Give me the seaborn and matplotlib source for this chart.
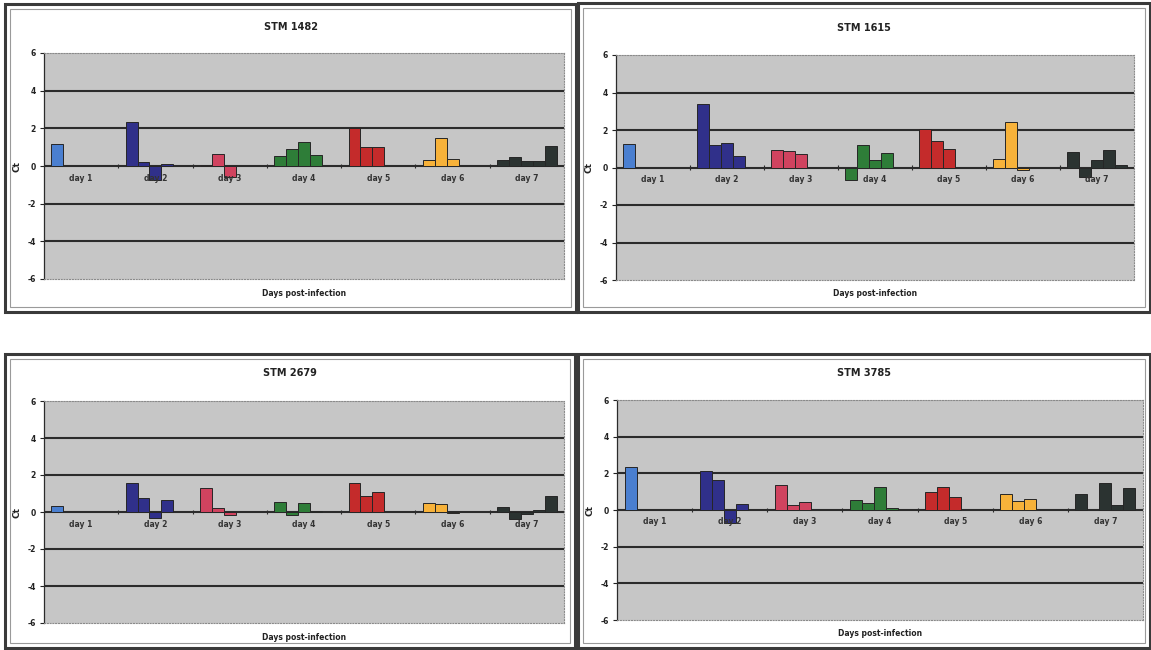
import numpy as np
import pandas as pd
import matplotlib
matplotlib.use('Agg')
import matplotlib.pyplot as plt
import seaborn as sns
from matplotlib.patches import Rectangle

# canvas size in pixels (dpi 100)
W, H = 1151, 650

days = ['day 1', 'day 2', 'day 3', 'day 4', 'day 5', 'day 6', 'day 7']
slots = ['s1', 's2', 's3', 's4', 's5']
titles = ['STM 1482', 'STM 1615', 'STM 2679', 'STM 3785']
nan = np.nan

# Ct values, one row per day, five sample slots per day
stm1482 = [
    [1.15, nan, nan, nan, nan],
    [2.35, 0.2, -0.75, 0.08, nan],
    [0.03, 0.62, -0.6, nan, nan],
    [0.55, 0.9, 1.3, 0.6, nan],
    [2.0, 1.0, 1.0, nan, nan],
    [0.3, 1.5, 0.35, nan, nan],
    [0.3, 0.5, 0.28, 0.25, 1.05],
]
stm1615 = [
    [1.25, nan, nan, nan, nan],
    [3.4, 1.22, 1.3, 0.6, nan],
    [0.93, 0.9, 0.7, nan, nan],
    [-0.65, 1.22, 0.38, 0.78, nan],
    [2.03, 1.42, 1.0, nan, nan],
    [0.43, 2.43, -0.15, nan, nan],
    [0.83, -0.5, 0.4, 0.92, 0.12],
]
stm2679 = [
    [0.35, nan, nan, nan, nan],
    [1.55, 0.77, -0.3, 0.65, nan],
    [1.3, 0.23, -0.17, nan, nan],
    [0.55, -0.15, 0.48, 0.05, nan],
    [1.55, 0.85, 1.1, nan, nan],
    [0.5, 0.42, -0.05, nan, nan],
    [0.28, -0.4, -0.1, 0.1, 0.88],
]
stm3785 = [
    [2.32, nan, nan, nan, nan],
    [2.15, 1.65, -0.7, 0.35, nan],
    [1.37, 0.27, 0.45, nan, nan],
    [0.53, 0.4, 1.28, 0.12, nan],
    [1.0, 1.27, 0.72, nan, nan],
    [0.85, 0.5, 0.58, nan, nan],
    [0.9, nan, 1.45, 0.28, 1.2],
]
panel_data = [stm1482, stm1615, stm2679, stm3785]

day_colors = ['#4a7fd0', '#30308a', '#d0435f', '#2e7d38',
              '#c42b2b', '#f7b23a', '#2b3331']

# layout (pixels): plot area (left, top, right, bottom) and chart box
plot_boxes = [(44, 53, 564, 279), (616, 55, 1134, 280),
              (44, 401, 564, 623), (617, 400, 1143, 620)]
chart_boxes = [(5, 4, 576, 312), (578, 3, 1150, 312),
               (5, 354, 575, 648), (578, 354, 1150, 648)]
title_y = [27, 28, 373, 373]
xtitle_y = [293, 294, 637, 633]

sns.set_style('white')
plt.rcParams['font.family'] = ['DejaVu Sans']
plt.rcParams['axes.unicode_minus'] = False

fig = plt.figure(figsize=(W / 100, H / 100), dpi=100)
fig.patch.set_facecolor('white')


def px_rect(x0, y0, x1, y1, **kw):
    return Rectangle((x0 / W, 1 - y1 / H), (x1 - x0) / W, (y1 - y0) / H,
                     transform=fig.transFigure, **kw)


for k in range(4):
    # frames of the chart object
    cx0, cy0, cx1, cy1 = chart_boxes[k]
    fig.add_artist(px_rect(cx0, cy0, cx1, cy1, fill=False,
                           edgecolor='#3a3a3a', lw=2.2))
    fig.add_artist(px_rect(cx0 + 5, cy0 + 5, cx1 - 5, cy1 - 5, fill=False,
                           edgecolor='#9a9a9a', lw=0.8))

    rows = []
    for i, d in enumerate(days):
        for j, s in enumerate(slots):
            rows.append({'day': d, 'slot': s, 'ct': panel_data[k][i][j]})
    df = pd.DataFrame(rows).dropna()

    l, t, r, b = plot_boxes[k]
    ax = fig.add_axes([l / W, 1 - b / H, (r - l) / W, (b - t) / H])
    sns.barplot(data=df, x='day', y='ct', hue='slot', order=days,
                hue_order=slots, width=0.8, errorbar=None, legend=False,
                saturation=1, ax=ax)
    for p in ax.patches:
        i = int(round(p.get_x() + p.get_width() / 2))
        p.set_facecolor(day_colors[i])
        p.set_edgecolor('#262626')
        p.set_linewidth(0.7)
        p.set_zorder(3)

    ax.set_facecolor('#c6c6c6')
    ax.set_xlim(-0.5, 6.5)
    ax.set_ylim(-6, 6)
    ax.set_yticks(range(-6, 7, 2))
    ax.set_xticks([])
    ax.set_xlabel('')
    for y in [-4, -2, 0, 2, 4]:
        ax.axhline(y, color='#2b2b2b', lw=1.5, zorder=1)
    ax.vlines([i - 0.5 for i in range(8)], -0.12, 0.12,
              color='#2b2b2b', lw=0.8, zorder=1)

    for side in ['top', 'right', 'bottom']:
        ax.spines[side].set_color('#8a8a8a')
        ax.spines[side].set_linestyle((0, (1, 1.5)))
        ax.spines[side].set_linewidth(0.8)
    ax.spines['left'].set_color('#2b2b2b')
    ax.spines['left'].set_linewidth(0.9)

    ax.tick_params(axis='y', length=3, width=0.8, pad=3, labelsize=5.5,
                   colors='#222222', left=True)
    plt.setp(ax.get_yticklabels(), fontweight='bold')
    ax.set_ylabel('Ct', fontsize=6.5, fontweight='bold', labelpad=4,
                  color='#222222')

    for i, d in enumerate(days):
        ax.text(i, -0.65, d, ha='center', va='center', fontsize=5.5,
                fontweight='bold', color='#333333', zorder=4)

    fig.text((cx0 + cx1) / 2 / W, 1 - title_y[k] / H, titles[k],
             ha='center', va='center', fontsize=7, fontweight='bold',
             color='#222222')
    fig.text((l + r) / 2 / W, 1 - xtitle_y[k] / H, 'Days post-infection',
             ha='center', va='center', fontsize=5.5, fontweight='bold',
             color='#222222')

fig.savefig('out.png', dpi=100)
